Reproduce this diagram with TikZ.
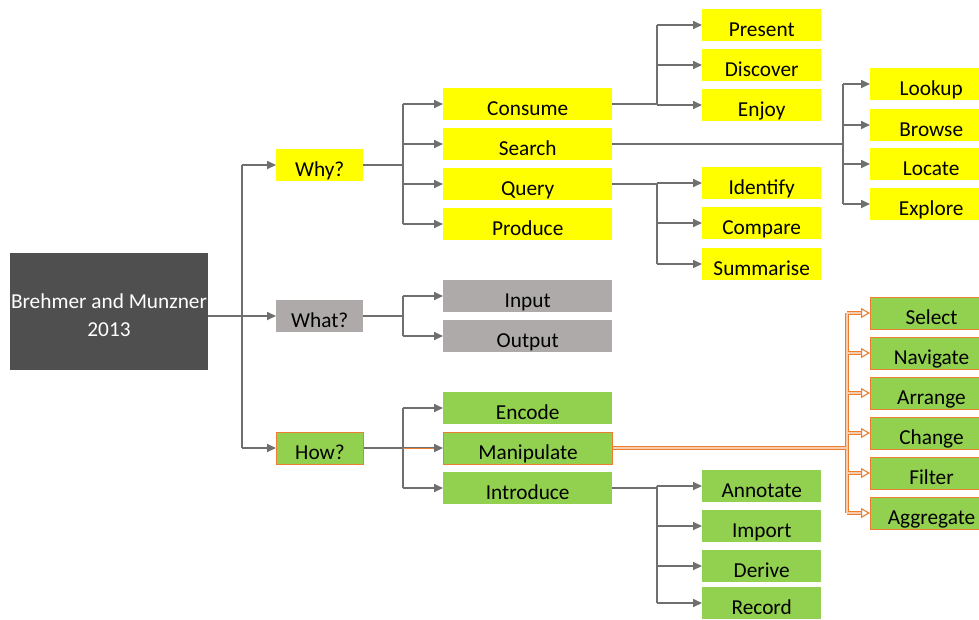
\documentclass[tikz,border=0pt]{standalone}
\usepackage{fontspec}
\setmainfont{Carlito}
\usetikzlibrary{arrows.meta}
\definecolor{cyel}{HTML}{FFFF00}
\definecolor{cgry}{HTML}{AEAAAA}
\definecolor{cgrn}{HTML}{92D050}
\definecolor{cdark}{HTML}{4F4F4F}
\definecolor{cline}{HTML}{6F6F6F}
\definecolor{corg}{HTML}{ED7D31}
\definecolor{corgl}{HTML}{F8CBAD}
\begin{document}
\begin{tikzpicture}[x=1pt,y=-1pt,
  box/.style={anchor=west, minimum height=32pt, inner sep=0pt, text height=22pt, text depth=0pt, font=\fontsize{21.3}{25}\selectfont},
  ybox/.style={box, fill=cyel},
  gbox/.style={box, fill=cgry},
  nbox/.style={box, fill=cgrn},
  obox/.style={box, fill=cgrn, draw=corg, line width=1pt},
  lvA/.style={minimum width=87pt},
  lvB/.style={minimum width=169pt},
  lvC/.style={minimum width=119pt},
  lvD/.style={minimum width=122pt},
  ln/.style={draw=cline, line width=1.7pt},
  arr/.style={ln, -{Triangle[length=9pt,width=8pt]}},
  orout/.style={draw=corg, line width=3.4pt},
  orin/.style={draw=corgl, line width=1.6pt},
  orarr/.style={orout, -{Triangle[open, length=9pt, width=10pt, line width=1.1pt]}},
  roottxt/.style={anchor=base, text=white, inner sep=0pt, font=\fontsize{21.3}{25}\selectfont}
]
\useasboundingbox (0,0) rectangle (979,619);
\clip (0,0) rectangle (979,619);
\fill[white] (0,0) rectangle (979,619);

% root
\node[fill=cdark, minimum width=198pt, minimum height=117pt, inner sep=0pt, anchor=north west] (root) at (10,253) {};
\node[roottxt] (rootA) at (109,308) {Brehmer and Munzner};
\node[roottxt] (rootB) at (109,336) {2013};

% level 1
\node[ybox, lvA] (why) at (276,165) {Why?};
\node[gbox, lvA] (what) at (276,316) {What?};
\node[obox, lvA] (how) at (276,448) {How?};

% level 2
\node[ybox, lvB] (consume) at (443,104) {Consume};
\node[ybox, lvB] (search) at (443,144) {Search};
\node[ybox, lvB] (query) at (443,184) {Query};
\node[ybox, lvB] (produce) at (443,224) {Produce};
\node[gbox, lvB] (input) at (443,296) {Input};
\node[gbox, lvB] (output) at (443,336) {Output};
\node[nbox, lvB] (encode) at (443,408) {Encode};
\node[obox, lvB] (manip) at (443,448) {Manipulate};
\node[nbox, lvB] (introduce) at (443,488) {Introduce};

% level 3
\node[ybox, lvC] (present) at (702,25) {Present};
\node[ybox, lvC] (discover) at (702,65) {Discover};
\node[ybox, lvC] (enjoy) at (702,105) {Enjoy};
\node[ybox, lvC] (identify) at (702,183) {Identify};
\node[ybox, lvC] (compare) at (702,223) {Compare};
\node[ybox, lvC] (summarise) at (702,264) {Summarise};
\node[nbox, lvC] (annotate) at (702,486) {Annotate};
\node[nbox, lvC] (import) at (702,526) {Import};
\node[nbox, lvC] (derive) at (702,566) {Derive};
\node[nbox, lvC] (record) at (702,603) {Record};

\node[ybox, lvD] (lookup) at (870,84) {Lookup};
\node[ybox, lvD] (browse) at (870,125) {Browse};
\node[ybox, lvD] (locate) at (870,164) {Locate};
\node[ybox, lvD] (explore) at (870,204) {Explore};

\node[obox, lvD] (select) at (870,313) {Select};
\node[obox, lvD] (navigate) at (870,353) {Navigate};
\node[obox, lvD] (arrange) at (870,393) {Arrange};
\node[obox, lvD] (change) at (870,433) {Change};
\node[obox, lvD] (filter) at (870,473) {Filter};
\node[obox, lvD] (aggregate) at (870,513) {Aggregate};

% branch points
\coordinate (v0) at (242,0);
\coordinate (v1) at (403,0);
\coordinate (v2) at (657,0);
\coordinate (v3) at (843,0);
\coordinate (v4) at (847,0);

% root connectors
\draw[ln] (root.east |- what.west) -- (v0 |- what);
\draw[ln] (v0 |- why) -- (v0 |- how);
\foreach \n in {why,what,how} \draw[arr] (v0 |- \n) -- (\n.west);

% why
\draw[ln] (why.east) -- (v1 |- why);
\draw[ln] (v1 |- consume) -- (v1 |- produce);
\foreach \n in {consume,search,query,produce} \draw[arr] (v1 |- \n) -- (\n.west);

% what
\draw[ln] (what.east) -- (v1 |- what);
\draw[ln] (v1 |- input) -- (v1 |- output);
\foreach \n in {input,output} \draw[arr] (v1 |- \n) -- (\n.west);

% how
\draw[ln] (how.east) -- (v1 |- how);
\draw[ln] (v1 |- encode) -- (v1 |- introduce);
\foreach \n in {encode,manip,introduce} \draw[arr] (v1 |- \n) -- (\n.west);
\draw[draw=corg, line width=0.8pt, shorten >=9pt] (v1 |- manip) -- (manip.west);

% consume
\draw[ln] (consume.east) -- (v2 |- consume);
\draw[ln] (v2 |- present) -- (v2 |- enjoy);
\foreach \n in {present,discover,enjoy} \draw[arr] (v2 |- \n) -- (\n.west);

% search
\draw[ln] (search.east) -- (v3 |- search);
\draw[ln] (v3 |- lookup) -- (v3 |- explore);
\foreach \n in {lookup,browse,locate,explore} \draw[arr] (v3 |- \n) -- (\n.west);

% query
\draw[ln] (query.east) -- (v2 |- query);
\draw[ln] (v2 |- identify) -- (v2 |- summarise);
\foreach \n in {identify,compare,summarise} \draw[arr] (v2 |- \n) -- (\n.west);

% introduce
\draw[ln] (introduce.east) -- (v2 |- introduce);
\draw[ln] (v2 |- annotate) -- (v2 |- record);
\foreach \n in {annotate,import,derive,record} \draw[arr] (v2 |- \n) -- (\n.west);

% manipulate (orange double lines)
\draw[orout] (manip.east) -- (v4 |- manip);
\draw[orout] (v4 |- select) -- (v4 |- aggregate);
\foreach \n in {select,navigate,arrange,change,filter,aggregate} \draw[orarr] (v4 |- \n) -- (\n.west);
\draw[orin] (manip.east) -- (v4 |- manip);
\draw[orin] (v4 |- select) -- (v4 |- aggregate);
\foreach \n in {select,navigate,arrange,change,filter,aggregate} \draw[orin, shorten >=9pt] (v4 |- \n) -- (\n.west);
\end{tikzpicture}
\end{document}
